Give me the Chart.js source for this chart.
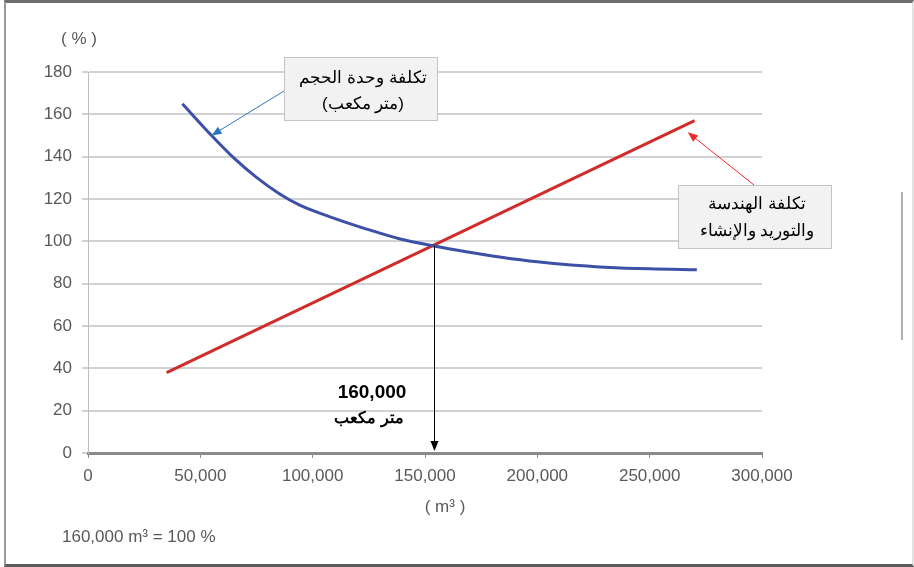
<!DOCTYPE html>
<html>
<head>
<meta charset="utf-8">
<script src="https://cdn.jsdelivr.net/npm/chart.js@4"></script>
<style>
  body { margin: 0; background: #fff; }
  #wrap { position: relative; width: 914px; height: 567px; }
  #frame {
    position: absolute; left: 4px; top: 0; width: 906px; height: 561px;
    border-top: 3px solid #6e6e6e; border-left: 2px solid #9a9a9a;
    border-bottom: 3px solid #5c5c5c; border-right: 2px solid #e2e2e2;
  }
  #stray { position: absolute; left: 901px; top: 192px; width: 2px; height: 148px; background: #b0b0b0; }
  canvas { position: absolute; left: 0; top: 0; }
</style>
</head>
<body>
<div id="wrap">
  <div id="frame"></div>
  <div id="stray"></div>
  <canvas id="costChart" width="914" height="567"></canvas>
</div>
<script>
// volume (m3) vs unit volume cost (%)
const unitX = [42000, 55000, 65000, 75000, 85000, 94000, 109000, 124000, 139000, 154000, 169000, 184000, 200000, 215000, 230000, 250000, 271000];
const unitY = [165, 150, 139.3, 130.2, 122.6, 117.2, 111.1, 105.8, 101.1, 97.8, 95.0, 92.5, 90.3, 88.8, 87.8, 87.0, 86.6];

// engineering, supply & construction cost (%)
const epcX = [35000, 270000];
const epcY = [38, 157];

// marked volume and crossing
const markX = 154000;
const markY = 98;

// where the callout arrows point (data coords)
const unitArrowTip = [55000, 150];
const epcArrowTip = [267000, 151.5];

const xTicks = [0, 50000, 100000, 150000, 200000, 250000, 300000];
const yTicks = [0, 20, 40, 60, 80, 100, 120, 140, 160, 180];

const FONT = "'Liberation Sans', Arial, sans-serif";
const GREY = '#595959';

function arrow(ctx, x1, y1, x2, y2, color, head) {
  const a = Math.atan2(y2 - y1, x2 - x1);
  ctx.save();
  ctx.strokeStyle = color;
  ctx.fillStyle = color;
  ctx.lineWidth = 1;
  ctx.beginPath();
  ctx.moveTo(x1, y1);
  ctx.lineTo(x2 - Math.cos(a) * head * 0.8, y2 - Math.sin(a) * head * 0.8);
  ctx.stroke();
  ctx.beginPath();
  ctx.moveTo(x2, y2);
  ctx.lineTo(x2 - head * Math.cos(a) + head * 0.4 * Math.sin(a), y2 - head * Math.sin(a) - head * 0.4 * Math.cos(a));
  ctx.lineTo(x2 - head * Math.cos(a) - head * 0.4 * Math.sin(a), y2 - head * Math.sin(a) + head * 0.4 * Math.cos(a));
  ctx.closePath();
  ctx.fill();
  ctx.restore();
}

function box(ctx, x, y, w, h, lines, lineY) {
  ctx.save();
  ctx.fillStyle = '#f2f2f2';
  ctx.fillRect(x, y, w, h);
  ctx.strokeStyle = '#c4c4c4';
  ctx.lineWidth = 1;
  ctx.strokeRect(x + 0.5, y + 0.5, w - 1, h - 1);
  ctx.fillStyle = '#000';
  ctx.font = '17px ' + FONT;
  ctx.textAlign = 'center';
  ctx.textBaseline = 'middle';
  ctx.direction = 'rtl';
  lines.forEach((t, i) => ctx.fillText(t, x + w / 2 + 2, lineY[i]));
  ctx.restore();
}

const notes = {
  id: 'notes',
  afterDraw(chart) {
    const ctx = chart.ctx;
    const xs = chart.scales.x, ys = chart.scales.y;

    ctx.save();
    ctx.fillStyle = GREY;
    ctx.font = '17px ' + FONT;
    ctx.textAlign = 'center';
    ctx.textBaseline = 'middle';
    ctx.fillText('( % )', 79, 39);
    ctx.fillText('( m³ )', 445, 507);
    ctx.textAlign = 'left';
    ctx.fillText('160,000 m³ = 100 %', 62, 537);
    ctx.restore();

    // vertical marker arrow
    const mx = Math.round(xs.getPixelForValue(markX)) + 0.5;
    arrow(ctx, mx, ys.getPixelForValue(markY), mx, ys.getPixelForValue(0) - 2, '#000', 10);

    ctx.save();
    ctx.fillStyle = '#000';
    ctx.textAlign = 'center';
    ctx.textBaseline = 'middle';
    ctx.font = 'bold 19px ' + FONT;
    ctx.fillText('160,000', 372, 393);
    ctx.font = 'bold 16px ' + FONT;
    ctx.direction = 'rtl';
    ctx.fillText('متر مكعب', 369, 419);
    ctx.restore();

    // callouts
    box(ctx, 284, 57, 154, 64, ['تكلفة وحدة الحجم', '(متر مكعب)'], [78, 104]);
    arrow(ctx, 284, 91, xs.getPixelForValue(unitArrowTip[0]), ys.getPixelForValue(unitArrowTip[1]), '#2e75c0', 10);

    box(ctx, 678, 185, 154, 64, ['تكلفة الهندسة', 'والتوريد والإنشاء'], [204, 231]);
    arrow(ctx, 754, 185, xs.getPixelForValue(epcArrowTip[0]), ys.getPixelForValue(epcArrowTip[1]), '#f02828', 10);
  }
};

new Chart(document.getElementById('costChart'), {
  type: 'scatter',
  data: {
    datasets: [
      {
        label: 'تكلفة وحدة الحجم',
        data: unitX.map((x, i) => ({ x, y: unitY[i] })),
        showLine: true,
        borderColor: '#3c50a8',
        borderWidth: 3,
        pointRadius: 0,
        cubicInterpolationMode: 'monotone',
      },
      {
        label: 'تكلفة الهندسة والتوريد والإنشاء',
        data: epcX.map((x, i) => ({ x, y: epcY[i] })),
        showLine: true,
        borderColor: '#d02c2c',
        borderWidth: 3,
        pointRadius: 0,
      }
    ]
  },
  options: {
    responsive: false,
    animation: false,
    layout: { padding: { left: 0, top: 72, right: 152, bottom: 74 } },
    plugins: { legend: { display: false }, tooltip: { enabled: false } },
    scales: {
      x: {
        type: 'linear',
        min: xTicks[0],
        max: xTicks[xTicks.length - 1],
        afterBuildTicks: s => { s.ticks = xTicks.map(v => ({ value: v })); },
        afterFit: s => { s.height = 40; },
        ticks: {
          callback: v => v.toLocaleString('en-US'),
          color: GREY,
          font: { size: 17, family: FONT },
          padding: 8,
          maxRotation: 0,
        },
        grid: { drawOnChartArea: false, tickLength: 5, color: '#8a8a8a', lineWidth: 1 },
        border: { color: '#8a8a8a', width: 3 },
      },
      y: {
        min: yTicks[0],
        max: yTicks[yTicks.length - 1],
        afterBuildTicks: s => { s.ticks = yTicks.map(v => ({ value: v })); },
        afterFit: s => { s.width = 88; },
        ticks: {
          color: GREY,
          font: { size: 17, family: FONT },
          padding: 10,
        },
        grid: { color: '#d2d2d2', lineWidth: 2, tickLength: 6 },
        border: { color: '#bdbdbd', width: 1 },
      }
    }
  },
  plugins: [notes]
});
</script>
</body>
</html>
